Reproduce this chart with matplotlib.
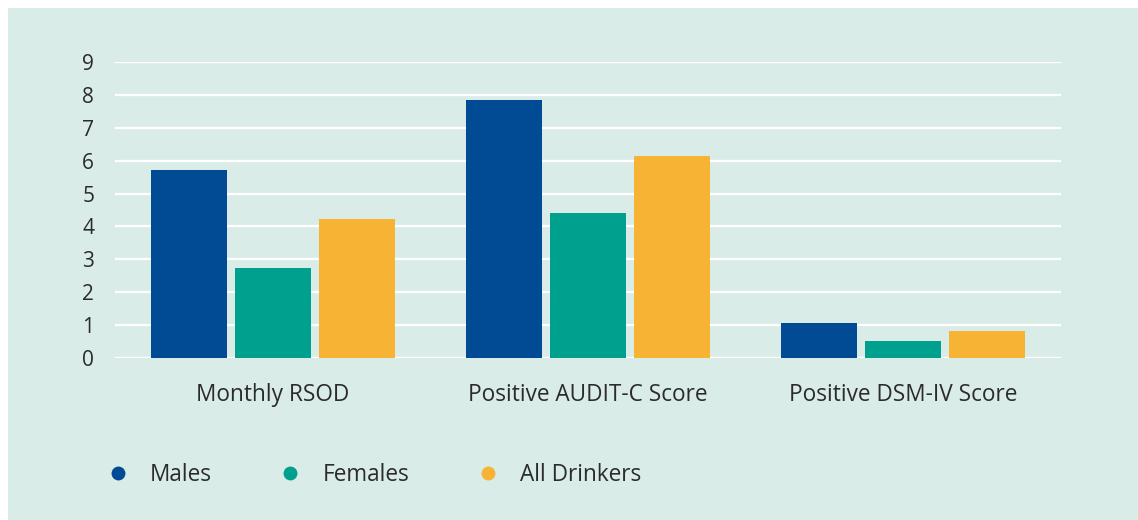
import matplotlib
matplotlib.use("Agg")
import matplotlib.pyplot as plt
import numpy as np
from matplotlib.patches import Rectangle
from matplotlib.lines import Line2D

categories = ["Monthly RSOD", "Positive AUDIT-C Score", "Positive DSM-IV Score"]
series_names = ["Males", "Females", "All Drinkers"]
males = [5.71, 7.84, 1.06]
females = [2.74, 4.41, 0.52]
all_drinkers = [4.22, 6.14, 0.82]
yticks = [0, 1, 2, 3, 4, 5, 6, 7, 8, 9]

colors = ["#004B93", "#00A08F", "#F7B334"]
bg = "#DAECE8"
txt = "#2B2B2B"

plt.rcParams['font.family'] = ['Open Sans', 'DejaVu Sans']

W, H = 1138, 520
fig = plt.figure(figsize=(W / 100, H / 100), dpi=100)
fig.patch.set_facecolor("white")
fig.add_artist(Rectangle((8 / W, 0), 1 - 8 / W, 1 - 8 / H, transform=fig.transFigure,
                         facecolor=bg, edgecolor="none", zorder=-10))

ax = fig.add_axes([115 / W, (H - 358) / H, (1061 - 115) / W, (358 - 62) / H])
ax.set_facecolor("none")

x = np.arange(len(categories))
step = 0.266
width = 0.241
for i, (vals, c) in enumerate(zip([males, females, all_drinkers], colors)):
    ax.bar(x + (i - 1) * step, vals, width=width, color=c, zorder=3)

ax.set_xlim(-0.5, 2.5)
ax.set_ylim(0, 9)
ax.set_yticks(yticks)
ax.set_yticklabels([str(t) for t in yticks], fontsize=15, color=txt)
ax.set_xticks(x)
ax.set_xticklabels(categories, fontsize=16.3, color=txt)
ax.tick_params(axis="both", length=0)
ax.tick_params(axis="y", pad=15)
ax.tick_params(axis="x", pad=18)
ax.yaxis.grid(True, color="white", linewidth=1.6, zorder=0)
ax.set_axisbelow(True)
for s in ax.spines.values():
    s.set_visible(False)

handles = [Line2D([], [], marker="o", linestyle="none", markersize=10,
                  markerfacecolor=c, markeredgecolor="none") for c in colors]
leg = fig.legend(handles, series_names, loc="center left",
                 bbox_to_anchor=(106.5 / W, 1 - 475 / H), ncol=3, frameon=False,
                 fontsize=16.3, handletextpad=0.93, columnspacing=2.95,
                 handlelength=1.0, borderaxespad=0, borderpad=0)
for t in leg.get_texts():
    t.set_color(txt)

fig.savefig("out.png", dpi=100, facecolor=fig.get_facecolor())
